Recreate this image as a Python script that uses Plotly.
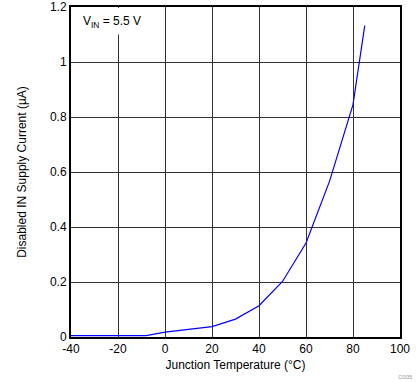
import plotly.graph_objects as go

temps = [-40, -25, -8, 0, 10, 20, 30, 40, 50, 60, 70, 80, 85]
current = [0.005, 0.005, 0.005, 0.018, 0.028, 0.038, 0.065, 0.114, 0.202, 0.342, 0.566, 0.845, 1.132]
x_ticks = [-40, -20, 0, 20, 40, 60, 80, 100]
x_labels = ["-40", "-20", "0", "20", "40", "60", "80", "100"]
y_ticks = [0, 0.2, 0.4, 0.6, 0.8, 1.0, 1.2]
y_labels = ["0", "0.2", "0.4", "0.6", "0.8", "1", "1.2"]

fig = go.Figure()
fig.add_trace(go.Scatter(x=temps, y=current, mode="lines",
                         line=dict(color="#0000ff", width=1.2), showlegend=False))

font = dict(family="Liberation Sans, Arial, sans-serif", size=12, color="black")
fig.update_layout(
    width=419, height=382,
    margin=dict(l=71, r=19, t=7, b=45, autoexpand=False),
    paper_bgcolor="white", plot_bgcolor="white",
    font=font,
    xaxis=dict(range=[-40, 100], tickvals=x_ticks, ticktext=x_labels, showgrid=True,
               gridcolor="#333333", gridwidth=1, automargin=False,
               showline=True, linecolor="black", linewidth=2, mirror=True, ticks="",
               zeroline=False, title=dict(text="Junction Temperature (°C)", standoff=5, font=font),
               tickfont=font),
    yaxis=dict(range=[0, 1.2], tickvals=y_ticks, ticktext=y_labels, showgrid=True, gridcolor="#333333",
               gridwidth=1, automargin=False, showline=True, linecolor="black", linewidth=2, mirror=True,
               ticks="", zeroline=False,
               title=dict(text="Disabled IN Supply Current (µA)", standoff=21, font=font),
               tickfont=font),
    shapes=[dict(type="rect", xref="paper", yref="paper", x0=0.003, x1=0.27, y0=0.917, y1=0.997,
                 fillcolor="white", line=dict(width=0), layer="above")],
    annotations=[
        dict(text="V<sub>IN</sub> = 5.5 V", xref="paper", yref="paper", x=0.03, y=0.985,
             xanchor="left", yanchor="top", showarrow=False, font=font),
        dict(text="C005", xref="paper", yref="paper", x=1.045, y=-0.12, xanchor="right", yanchor="middle",
             showarrow=False, font=dict(family="Liberation Sans, Arial, sans-serif", size=6, color="#999999")),
    ],
)
fig.write_html("out.html", config={"displayModeBar": False},
               post_script="document.body.style.margin='0';document.body.style.overflow='hidden';")
